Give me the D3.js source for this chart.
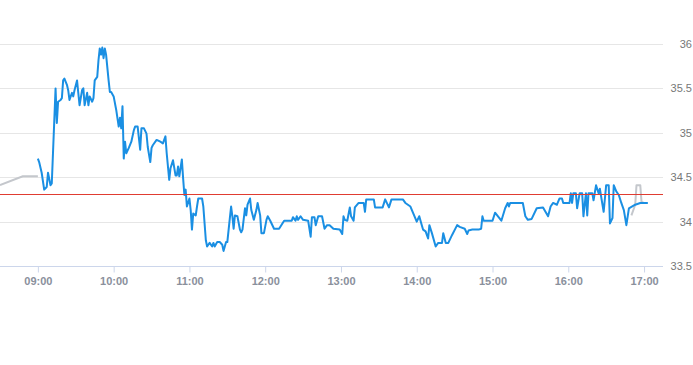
<!DOCTYPE html>
<html>
<head>
<meta charset="utf-8">
<script src="https://cdn.jsdelivr.net/npm/d3@7"></script>
<style>
  html, body { margin: 0; padding: 0; background: #fff; }
  svg { display: block; font-family: "Liberation Sans", Arial, sans-serif; }
</style>
</head>
<body>
<svg id="chart" width="693" height="365"></svg>
<script>
// ---- data ----
const mainTimes = ["09:00","09:01","09:03","09:05","09:07","09:08","09:10","09:11","09:14","09:15","09:16","09:18","09:19","09:20","09:21","09:23","09:24","09:25","09:27","09:28","09:29","09:31","09:32","09:33","09:35","09:36","09:37","09:39","09:40","09:41","09:43","09:44","09:45","09:47","09:48","09:49","09:50","09:51","09:52","09:53","09:54","09:56","09:57","09:58","10:00","10:02","10:04","10:05","10:06","10:07","10:08","10:09","10:10","10:12","10:14","10:16","10:17","10:19","10:21","10:22","10:24","10:26","10:27","10:29","10:30","10:31","10:34","10:37","10:39","10:41","10:42","10:44","10:45","10:47","10:49","10:50","10:51","10:52","10:54","10:55","10:56","10:57","10:58","11:00","11:01","11:02","11:03","11:05","11:06","11:07","11:10","11:11","11:13","11:14","11:16","11:18","11:19","11:20","11:22","11:24","11:26","11:27","11:29","11:30","11:32","11:33","11:34","11:35","11:36","11:38","11:40","11:41","11:42","11:44","11:45","11:46","11:48","11:49","11:51","11:53","11:54","11:56","11:57","11:59","12:01","12:02","12:04","12:07","12:11","12:15","12:21","12:22","12:24","12:25","12:26","12:28","12:30","12:34","12:36","12:37","12:39","12:40","12:42","12:45","12:47","12:49","12:51","12:54","12:59","13:01","13:02","13:03","13:05","13:07","13:08","13:10","13:11","13:14","13:18","13:19","13:20","13:26","13:27","13:33","13:35","13:38","13:40","13:49","13:51","13:55","13:57","14:00","14:02","14:04","14:05","14:07","14:09","14:10","14:12","14:15","14:17","14:20","14:21","14:23","14:25","14:28","14:32","14:34","14:38","14:40","14:41","14:44","14:49","14:51","14:52","14:53","15:00","15:02","15:07","15:10","15:12","15:13","15:14","15:24","15:26","15:28","15:31","15:35","15:40","15:44","15:46","15:48","15:51","15:53","15:55","15:56","16:01","16:02","16:03","16:04","16:06","16:07","16:09","16:11","16:12","16:14","16:15","16:16","16:19","16:20","16:22","16:24","16:25","16:28","16:30","16:32","16:33","16:35","16:36","16:38","16:40","16:42","16:44","16:46","16:48","16:53","16:57","17:03"];
const mainValues = [34.71,34.67,34.55,34.36,34.39,34.55,34.41,34.43,35.50,35.11,35.35,35.37,35.39,35.59,35.61,35.54,35.48,35.37,35.45,35.41,35.48,35.59,35.45,35.31,35.48,35.50,35.31,35.45,35.31,35.41,35.35,35.39,35.59,35.63,35.82,35.95,35.88,35.96,35.84,35.95,35.88,35.59,35.46,35.46,35.41,35.26,35.07,35.17,35.05,35.30,34.71,34.90,34.77,34.83,34.90,35.03,35.07,35.07,34.81,35.05,35.05,34.99,34.84,34.67,34.83,34.86,34.92,34.90,34.88,34.96,34.77,34.47,34.60,34.69,34.52,34.52,34.62,34.51,34.70,34.49,34.30,34.36,34.17,34.26,34.13,33.91,34.09,34.07,34.17,34.26,34.26,34.17,33.79,33.72,33.76,33.72,33.76,33.72,33.77,33.77,33.74,33.67,33.77,33.77,34.04,34.17,34.06,33.92,34.07,34.06,33.91,33.88,33.91,34.15,34.07,34.19,34.26,34.13,34.02,34.13,34.21,34.07,33.87,33.87,34.02,34.06,34.01,33.92,33.92,34.01,34.01,34.05,34.01,34.06,34.02,34.06,34.02,34.01,33.83,34.05,34.05,33.96,34.06,34.06,33.92,33.96,33.96,33.92,33.91,33.86,34.06,34.02,34.01,34.16,34.06,34.01,34.16,34.21,34.21,34.11,34.25,34.25,34.16,34.16,34.25,34.16,34.25,34.25,34.21,34.17,34.10,34.00,34.06,33.96,33.91,33.89,33.81,33.96,33.87,33.72,33.76,33.76,33.87,33.76,33.76,33.85,33.96,33.94,33.92,33.86,33.90,33.91,33.91,33.92,34.06,34.01,34.01,34.10,34.01,34.15,34.21,34.17,34.21,34.21,34.06,34.02,34.03,34.15,34.16,34.06,34.17,34.21,34.19,34.26,34.26,34.21,34.21,34.32,34.21,34.32,34.32,34.15,34.32,34.32,34.06,34.32,34.07,34.32,34.32,34.24,34.41,34.32,34.37,34.11,34.41,34.41,33.98,34.04,34.41,34.34,34.30,34.21,34.13,33.96,34.15,34.19,34.21,34.21];

const preTimes = ["08:30","08:48","09:00"];
const preValues = [34.41,34.51,34.51];

const postTimes = ["16:50","16:53","16:54","16:57","16:58","17:00"];
const postValues = [34.07,34.19,34.41,34.41,34.22,34.21];

const refValue = 34.31;

const xTickLabels = ["09:00","10:00","11:00","12:00","13:00","14:00","15:00","16:00","17:00"];
const yTickValues = [33.5, 34, 34.5, 35, 35.5, 36];
const yTickLabels = ["33.5","34","34.5","35","35.5","36"];

// ---- helpers ----
const parse = d3.timeParse("%Y-%m-%d %H:%M");
const t = s => parse("2024-01-02 " + s);
const series = (times, values) => times.map((s, i) => ({ time: t(s), value: values[i] }));

const plotLeft = 0, plotRight = 663, plotTop = 44, plotBottom = 266;

const x = d3.scaleTime().domain([t("08:30"), t("17:15")]).range([plotLeft, plotRight]);
const y = d3.scaleLinear().domain([33.5, 36]).range([plotBottom, plotTop]);

const svg = d3.select("#chart");

// gridlines
svg.append("g")
  .selectAll("line")
  .data(yTickValues.filter(v => v !== 33.5))
  .join("line")
  .attr("x1", plotLeft).attr("x2", plotRight)
  .attr("y1", d => Math.round(y(d)) + 0.5).attr("y2", d => Math.round(y(d)) + 0.5)
  .attr("stroke", "#e6e6e6").attr("stroke-width", 1);

// x axis
const xAxis = d3.axisBottom(x)
  .tickValues(xTickLabels.map(t))
  .tickFormat(d3.timeFormat("%H:%M"))
  .tickSize(6)
  .tickPadding(5);

const gx = svg.append("g")
  .attr("transform", `translate(0,${plotBottom + 0.5})`)
  .call(xAxis);
gx.select(".domain").attr("d", `M${plotLeft},0H${plotRight}`).attr("stroke", "#ccd6eb");
gx.selectAll(".tick line").attr("stroke", "#ccd6eb");
gx.selectAll(".tick text")
  .attr("fill", "#8a909c")
  .attr("font-size", 11)
  .attr("font-weight", "bold")
  .attr("font-family", "'Liberation Sans', Arial, sans-serif");

// y axis labels (right side)
const yAxis = d3.axisLeft(y)
  .tickValues(yTickValues)
  .tickFormat((d, i) => yTickLabels[i])
  .tickSize(0)
  .tickPadding(0);
const gy = svg.append("g")
  .attr("transform", `translate(692,0)`)
  .call(yAxis);
gy.select(".domain").remove();
gy.selectAll(".tick text")
  .attr("fill", "#777")
  .attr("font-size", 11)
  .attr("font-family", "'Liberation Sans', Arial, sans-serif");

// lines
const line = d3.line().x(d => x(d.time)).y(d => y(d.value));

svg.append("path")
  .datum(series(preTimes, preValues))
  .attr("fill", "none").attr("stroke", "#c4c7cc").attr("stroke-width", 2)
  .attr("d", line);

svg.append("path")
  .datum(series(postTimes, postValues))
  .attr("fill", "none").attr("stroke", "#c4c7cc").attr("stroke-width", 2)
  .attr("stroke-linejoin", "round")
  .attr("d", line);

svg.append("path")
  .datum(series(mainTimes, mainValues))
  .attr("fill", "none").attr("stroke", "#1a8fe3").attr("stroke-width", 2)
  .attr("stroke-linejoin", "round")
  .attr("d", line);

// reference line
svg.append("line")
  .attr("x1", plotLeft).attr("x2", plotRight)
  .attr("y1", Math.round(y(refValue)) + 0.5).attr("y2", Math.round(y(refValue)) + 0.5)
  .attr("stroke", "#e03c31").attr("stroke-width", 1);
</script>
</body>
</html>
